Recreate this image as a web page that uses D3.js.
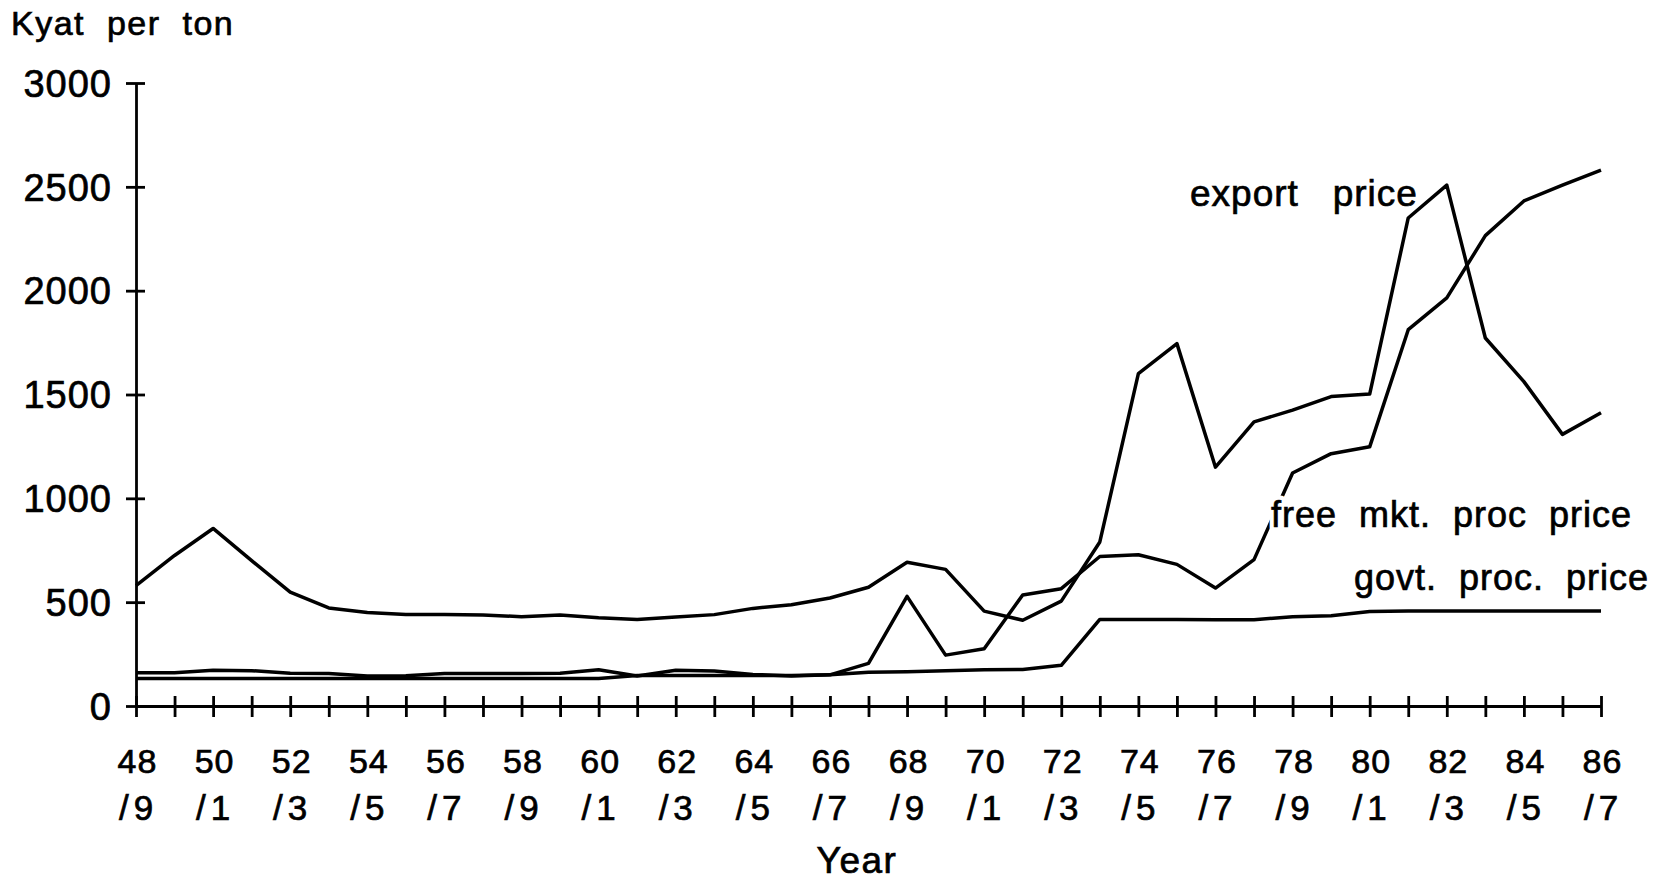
<!DOCTYPE html>
<html>
<head>
<meta charset="utf-8">
<script src="https://cdn.jsdelivr.net/npm/d3@7"></script>
<style>
  body { margin: 0; background: #fff; }
  svg { display: block; background: #fff; }
  text { font-family: "Liberation Sans", Arial, Helvetica, sans-serif; fill: #000; }
  .ink { stroke: #000; stroke-width: 0.7px; }
</style>
</head>
<body>
<svg id="chart" width="1667" height="881"></svg>
<script>
// ---- Data (Kyat per ton), crop years 1948/49 .. 1986/87 ----
const cropYears = [
  "1948/49","1949/50","1950/51","1951/52","1952/53","1953/54","1954/55","1955/56",
  "1956/57","1957/58","1958/59","1959/60","1960/61","1961/62","1962/63","1963/64",
  "1964/65","1965/66","1966/67","1967/68","1968/69","1969/70","1970/71","1971/72",
  "1972/73","1973/74","1974/75","1975/76","1976/77","1977/78","1978/79","1979/80",
  "1980/81","1981/82","1982/83","1983/84","1984/85","1985/86","1986/87"
];
const exportPrice = [
  580, 725, 855, 700, 548, 472, 450, 441, 441, 438,
  430, 438, 425, 417, 428, 440, 470, 488, 520, 572,
  692, 658, 457, 413, 505, 790, 1600, 1745, 1150, 1368,
  1425, 1490, 1502, 2350, 2508, 1772, 1562, 1308, 1412
];
const freeMarketPrice = [
  160, 160, 172, 170, 158, 156, 145, 146, 157, 157,
  157, 158, 175, 144, 172, 168, 152, 145, 150, 205,
  528, 245, 276, 535, 565, 720, 728, 682, 568, 705,
  1122, 1215, 1248, 1812, 1965, 2265, 2432, 2508, 2580
];
const govtProcPrice = [
  133, 133, 133, 133, 133, 133, 133, 133, 133, 133,
  133, 133, 133, 147, 147, 147, 147, 147, 150, 162,
  165, 170, 175, 176, 196, 417, 417, 417, 415, 415,
  430, 435, 455, 458, 458, 458, 458, 458, 458
];
const yTicks = [0, 500, 1000, 1500, 2000, 2500, 3000];
const xTickTop = ["48","50","52","54","56","58","60","62","64","66",
                  "68","70","72","74","76","78","80","82","84","86"];
const xTickBottom = ["/9","/1","/3","/5","/7","/9","/1","/3","/5","/7",
                     "/9","/1","/3","/5","/7","/9","/1","/3","/5","/7"];
const seriesLabels = ["export   price", "free  mkt.  proc  price", "govt.  proc.  price"];
const yAxisTitle = "Kyat  per  ton";
const xAxisTitle = "Year";

// ---- Layout ----
const W = 1667, H = 881;
const margin = { left: 136, right: 66, top: 83, bottom: 175 };
const svg = d3.select("#chart");

const x = d3.scaleLinear()
  .domain([0, cropYears.length - 1])
  .range([margin.left, W - margin.right]);
const y = d3.scaleLinear()
  .domain([0, 3000])
  .range([H - margin.bottom, margin.top]);

// ---- Y axis ----
const yAxis = svg.append("g")
  .attr("transform", `translate(${margin.left},0)`)
  .call(d3.axisLeft(y).tickValues(yTicks).tickFormat(d3.format("d"))
        .tickSize(10).tickSizeOuter(0).tickPadding(15));
yAxis.select(".domain").attr("stroke", "#000").attr("stroke-width", 2.8);
yAxis.selectAll(".tick line").attr("x1", 9).attr("stroke", "#000").attr("stroke-width", 2.8);
yAxis.selectAll(".tick text")
  .attr("class", "ink")
  .attr("fill", "#000")
  .style("font-size", "38px")
  .style("letter-spacing", "1px")
  .attr("dy", "0.35em")
  .attr("x", -24);

// ---- X axis ----
const xAxis = svg.append("g")
  .attr("transform", `translate(0,${y(0)})`)
  .call(d3.axisBottom(x).tickValues(d3.range(cropYears.length)).tickSize(11)
        .tickSizeOuter(0).tickFormat(""));
xAxis.select(".domain").attr("stroke", "#000").attr("stroke-width", 2.8);
xAxis.selectAll(".tick line").attr("y1", -10).attr("stroke", "#000").attr("stroke-width", 2.8);
xAxis.selectAll(".tick text").remove();
xAxis.selectAll(".tick").filter(d => d % 2 === 0).each(function(d) {
  const k = d / 2;
  const g = d3.select(this);
  g.append("text")
    .attr("class", "ink")
    .attr("text-anchor", "middle")
    .attr("x", 1).attr("y", 67)
    .style("font-size", "34px")
    .style("letter-spacing", "1px")
    .text(xTickTop[k]);
  g.append("text")
    .attr("class", "ink")
    .attr("text-anchor", "middle")
    .attr("x", 2).attr("y", 114)
    .style("font-size", "35px")
    .style("letter-spacing", "5px")
    .text(xTickBottom[k]);
});

// ---- Lines ----
const line = d3.line()
  .x((d, i) => x(i))
  .y(d => y(d))
  .curve(d3.curveLinear);

[govtProcPrice, freeMarketPrice, exportPrice].forEach(s => {
  svg.append("path")
    .datum(s)
    .attr("fill", "none")
    .attr("stroke", "#000")
    .attr("stroke-width", 3.5)
    .attr("stroke-linejoin", "round")
    .attr("d", line);
});

// ---- Series labels (white halo knocks out the lines behind, as in the original) ----
const labelPos = [
  { x: 1190, y: 206, size: 37 },
  { x: 1271, y: 527, size: 36 },
  { x: 1354, y: 590, size: 36 }
];
seriesLabels.forEach((lab, i) => {
  ["halo", "ink"].forEach(kind => {
    const t = svg.append("text")
      .attr("x", labelPos[i].x)
      .attr("y", labelPos[i].y)
      .attr("xml:space", "preserve")
      .style("font-size", labelPos[i].size + "px")
      .style("letter-spacing", "1px")
      .style("white-space", "pre")
      .text(lab);
    if (kind === "halo") {
      t.attr("stroke", "#fff").attr("stroke-width", 9).attr("stroke-linejoin", "round").attr("fill", "#fff");
    } else {
      t.attr("class", "ink");
    }
  });
});

// ---- Axis titles ----
svg.append("text")
  .attr("class", "ink")
  .attr("x", 11).attr("y", 35)
  .attr("xml:space", "preserve")
  .style("white-space", "pre")
  .style("font-size", "34px")
  .style("letter-spacing", "1.5px")
  .text(yAxisTitle);

svg.append("text")
  .attr("class", "ink")
  .attr("x", 857).attr("y", 873)
  .attr("text-anchor", "middle")
  .style("font-size", "37px")
  .style("letter-spacing", "1.5px")
  .text(xAxisTitle);
</script>
</body>
</html>
